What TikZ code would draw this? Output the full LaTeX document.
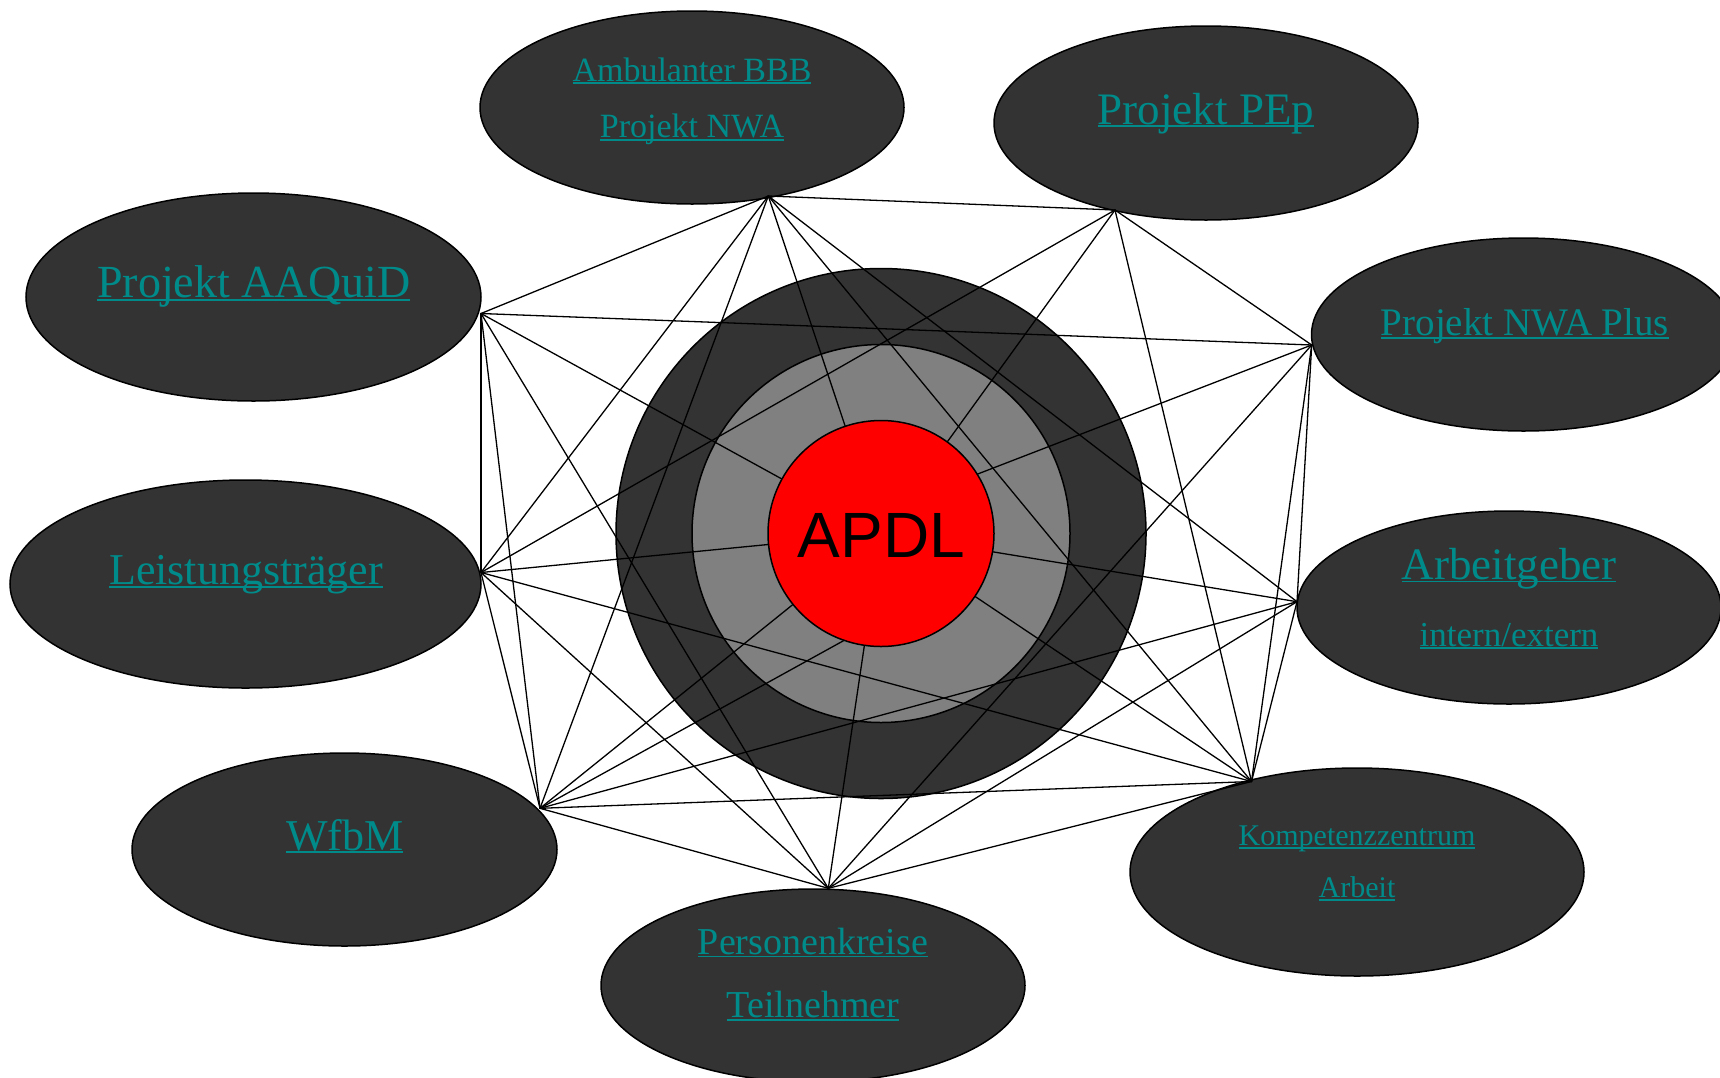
\documentclass[tikz,border=0pt]{standalone}
\usepackage{fontspec}
\setmainfont{Liberation Serif}
\newfontfamily\arialf{Liberation Sans}
\usetikzlibrary{shapes.geometric}
\definecolor{darkfill}{RGB}{51,51,51}
\definecolor{midgray}{RGB}{128,128,128}
\definecolor{tealtxt}{RGB}{0,139,139}
\newcommand\ulx[1]{\setbox0=\hbox{#1}\rlap{\rule[-3pt]{\wd0}{1.6pt}}\box0}
\tikzset{
  blob/.style={ellipse, draw=black, line width=1.5pt, fill=darkfill, inner sep=0pt},
  disc/.style={circle, draw=black, line width=1.5pt, inner sep=0pt},
  conn/.style={draw=black, line width=1.3pt, line cap=round},
  lbl/.style={anchor=base, text=tealtxt, inner sep=0pt},
}
\begin{document}
\begin{tikzpicture}[x=1pt,y=-1pt]
\useasboundingbox (0,0) rectangle (1720,1077);
\clip (0,0) rectangle (1720,1077);
% outer ellipses
\node[blob, minimum width=424pt, minimum height=193pt] (e1) at (692,107.5) {};
\node[blob, minimum width=424pt, minimum height=194pt] (e2) at (1206,123) {};
\node[blob, minimum width=424pt, minimum height=193pt] (e3) at (1523.5,334.5) {};
\node[blob, minimum width=455pt, minimum height=208pt] (e4) at (253.5,297) {};
\node[blob, minimum width=471pt, minimum height=208pt] (e5) at (245.5,584) {};
\node[blob, minimum width=425pt, minimum height=193pt] (e6) at (344.5,849.5) {};
\node[blob, minimum width=424pt, minimum height=193pt] (e7) at (813,985.5) {};
\node[blob, minimum width=454pt, minimum height=208pt] (e8) at (1357,872) {};
\node[blob, minimum width=424pt, minimum height=193pt] (e9) at (1509,607.5) {};
% centre rings
\node[disc, fill=darkfill, minimum size=530pt] (outer) at (881,533.5) {};
\node[disc, fill=midgray, minimum size=378pt] (mid) at (881,533.5) {};
\coordinate (c) at (881,533.5);
% junction points
\coordinate (p1) at (768.3,196);
\coordinate (p2) at (1115,210);
\coordinate (p3) at (1311.7,345);
\coordinate (p4) at (481,313.5);
\coordinate (p5) at (481,572.5);
\coordinate (p6) at (540,808.3);
\coordinate (p7) at (828.3,888.3);
\coordinate (p8) at (1251.5,781.5);
\coordinate (p9) at (1297,601.7);
\coordinate (t3) at (900,504);
\coordinate (t6) at (881,620);
% connectors between outer points
\draw[conn] (p1) -- (p2);
\draw[conn] (p1) -- (p4);
\draw[conn] (p1) -- (p5);
\draw[conn] (p1) -- (p6);
\draw[conn] (p1) -- (p8);
\draw[conn] (p1) -- (p9);
\draw[conn] (p2) -- (p3);
\draw[conn] (p2) -- (p5);
\draw[conn] (p2) -- (p8);
\draw[conn] (p3) -- (p4);
\draw[conn] (p3) -- (p7);
\draw[conn] (p3) -- (p8);
\draw[conn] (p3) -- (p9);
\draw[conn] (p4) -- (p5);
\draw[conn] (p4) -- (p6);
\draw[conn] (p4) -- (p7);
\draw[conn] (p5) -- (p6);
\draw[conn] (p5) -- (p7);
\draw[conn] (p5) -- (p8);
\draw[conn] (p6) -- (p7);
\draw[conn] (p6) -- (p8);
\draw[conn] (p6) -- (p9);
\draw[conn] (p7) -- (p8);
\draw[conn] (p7) -- (p9);
\draw[conn] (p8) -- (p9);
% spokes to the centre
\draw[conn] (p1) -- (c);
\draw[conn] (p2) -- (c);
\draw[conn] (p3) -- (t3);
\draw[conn] (p4) -- (c);
\draw[conn] (p5) -- (c);
\draw[conn] (p6) -- (c);
\draw[conn] (p6) -- (t6);
\draw[conn] (p7) -- (c);
\draw[conn] (p8) -- (c);
\draw[conn] (p9) -- (c);
% core
\node[disc, fill=red, minimum size=226pt] (core) at (c) {};
\node[anchor=base, inner sep=0pt, font=\arialf\fontsize{64}{70}\selectfont] (apdl) at (881.3,557.3) {APDL};
% labels
\node[lbl, font=\fontsize{34}{40}\selectfont] (l1a) at (692,81) {\ulx{Ambulanter BBB}};
\node[lbl, font=\fontsize{34}{40}\selectfont] (l1b) at (692,137.7) {\ulx{Projekt NWA}};
\node[lbl, font=\fontsize{45}{54}\selectfont] (l2) at (1206,124) {\ulx{Projekt PEp}};
\node[lbl, font=\fontsize{39}{46}\selectfont] (l3) at (1525,335.7) {\ulx{Projekt NWA Plus}};
\node[lbl, font=\fontsize{46}{54}\selectfont] (l4) at (253.7,297.9) {\ulx{Projekt AAQuiD}};
\node[lbl, font=\fontsize{44}{52}\selectfont] (l5) at (246,584.5) {\ulx{Leistungsträger}};
\node[lbl, font=\fontsize{44}{52}\selectfont] (l6) at (344.8,850) {\ulx{WfbM}};
\node[lbl, font=\fontsize{38}{46}\selectfont] (l7a) at (813,954.4) {\ulx{Personenkreise}};
\node[lbl, font=\fontsize{38}{46}\selectfont] (l7b) at (813,1017.7) {\ulx{Teilnehmer}};
\node[lbl, font=\fontsize{30}{36}\selectfont] (l8a) at (1357,845.8) {\ulx{Kompetenzzentrum}};
\node[lbl, font=\fontsize{30}{36}\selectfont] (l8b) at (1357,897.9) {\ulx{Arbeit}};
\node[lbl, font=\fontsize{45}{54}\selectfont] (l9a) at (1509,579.4) {\ulx{Arbeitgeber}};
\node[lbl, font=\fontsize{35}{42}\selectfont] (l9b) at (1509,646) {\ulx{intern/extern}};
\end{tikzpicture}
\end{document}
